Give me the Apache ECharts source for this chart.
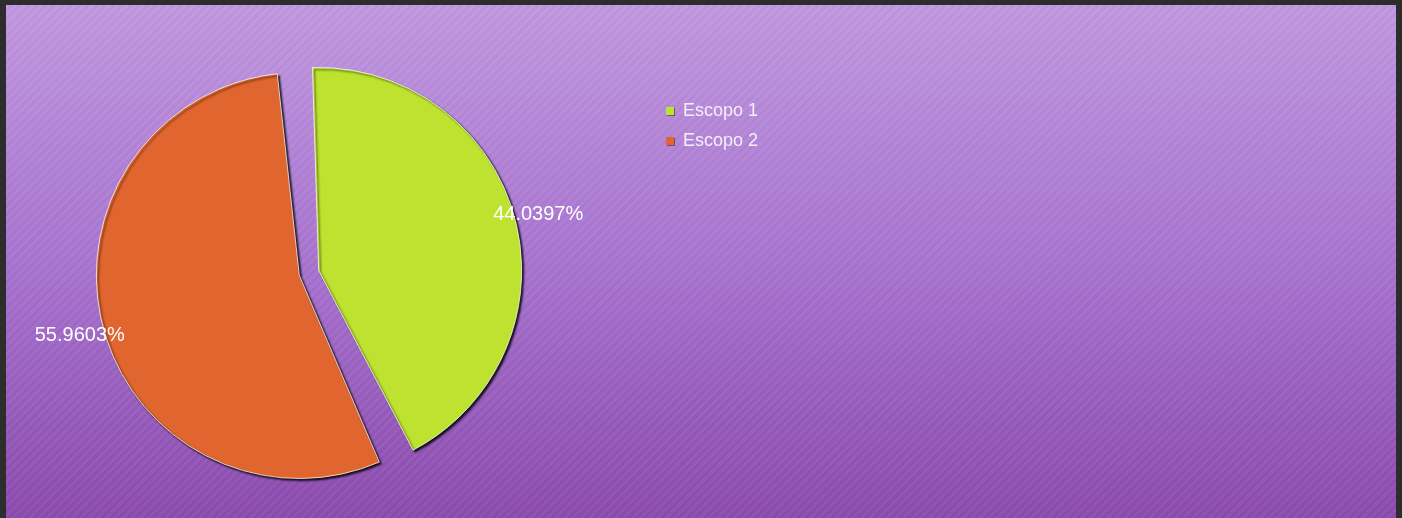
<!DOCTYPE html>
<html>
<head>
<meta charset="utf-8">
<script src="https://cdn.jsdelivr.net/npm/echarts@6/dist/echarts.min.js"></script>
<style>
  html, body { margin:0; padding:0; width:1402px; height:518px; overflow:hidden; background:#2d2d2d; }
  #bg { position:absolute; left:6px; top:5px; width:1390px; height:513px;
    background:
      repeating-linear-gradient(135deg, rgba(255,255,255,0.035) 0px, rgba(255,255,255,0.035) 3px, rgba(0,0,0,0.02) 3px, rgba(0,0,0,0.02) 6px),
      linear-gradient(to bottom, #c198e0 0%, #a874d0 50%, #8c4baf 100%);
  }
  #chart { position:absolute; left:0; top:0; width:1402px; height:518px; }
</style>
</head>
<body>
<div id="bg"></div>
<div id="chart"></div>
<script>
const categories = ['Escopo 1', 'Escopo 2'];
const values = [44.0397, 55.9603];
const colors = ['#bde22f', '#e0652e'];

const chart = echarts.init(document.getElementById('chart'), null, { renderer: 'canvas' });
const pieData = categories.map((n, i) => ({ name: n, value: values[i], selected: true, itemStyle: { color: colors[i] } }));
const labelData = categories.map((n, i) => ({ name: n, value: values[i] }));

chart.setOption({
  backgroundColor: 'transparent',
  animation: false,
  legend: {
    orient: 'vertical', left: 661, top: 97,
    itemWidth: 8, itemHeight: 8, itemGap: 12,
    icon: 'rect',
    data: categories.map((n, i) => ({ name: n, itemStyle: { color: colors[i], borderWidth: 0, shadowColor: 'rgba(0,0,0,0.4)', shadowBlur: 0, shadowOffsetX: 1, shadowOffsetY: 1 } })),
    textStyle: { color: '#f4eefa', fontSize: 18, fontFamily: 'Liberation Sans, Arial, sans-serif', lineHeight: 18, padding: [0, 0, 0, 4] }
  },
  series: [
    {
      type: 'pie', center: [309, 273], radius: 203, startAngle: 94, padAngle: 4.5,
      selectedMode: 'multiple', selectedOffset: 10,
      data: pieData,
      label: { show: false }, labelLine: { show: false },
      emphasis: { disabled: true },
      itemStyle: { borderColor: 'rgba(255,255,255,0.75)', borderWidth: 1, shadowColor: 'rgba(0,0,0,0.85)', shadowBlur: 2, shadowOffsetX: 2, shadowOffsetY: 2 }
    },
    {
      type: 'pie', center: [309, 275], radius: 468, startAngle: 94, padAngle: 4.5,
      silent: true, percentPrecision: 4,
      data: labelData,
      itemStyle: { color: 'rgba(0,0,0,0)', borderWidth: 0 },
      emphasis: { disabled: true },
      labelLine: { show: false },
      label: { show: true, position: 'inside', formatter: '{d}%', color: '#ffffff', fontSize: 20, fontFamily: 'Liberation Sans, Arial, sans-serif' }
    }
  ]
});
</script>
</body>
</html>
